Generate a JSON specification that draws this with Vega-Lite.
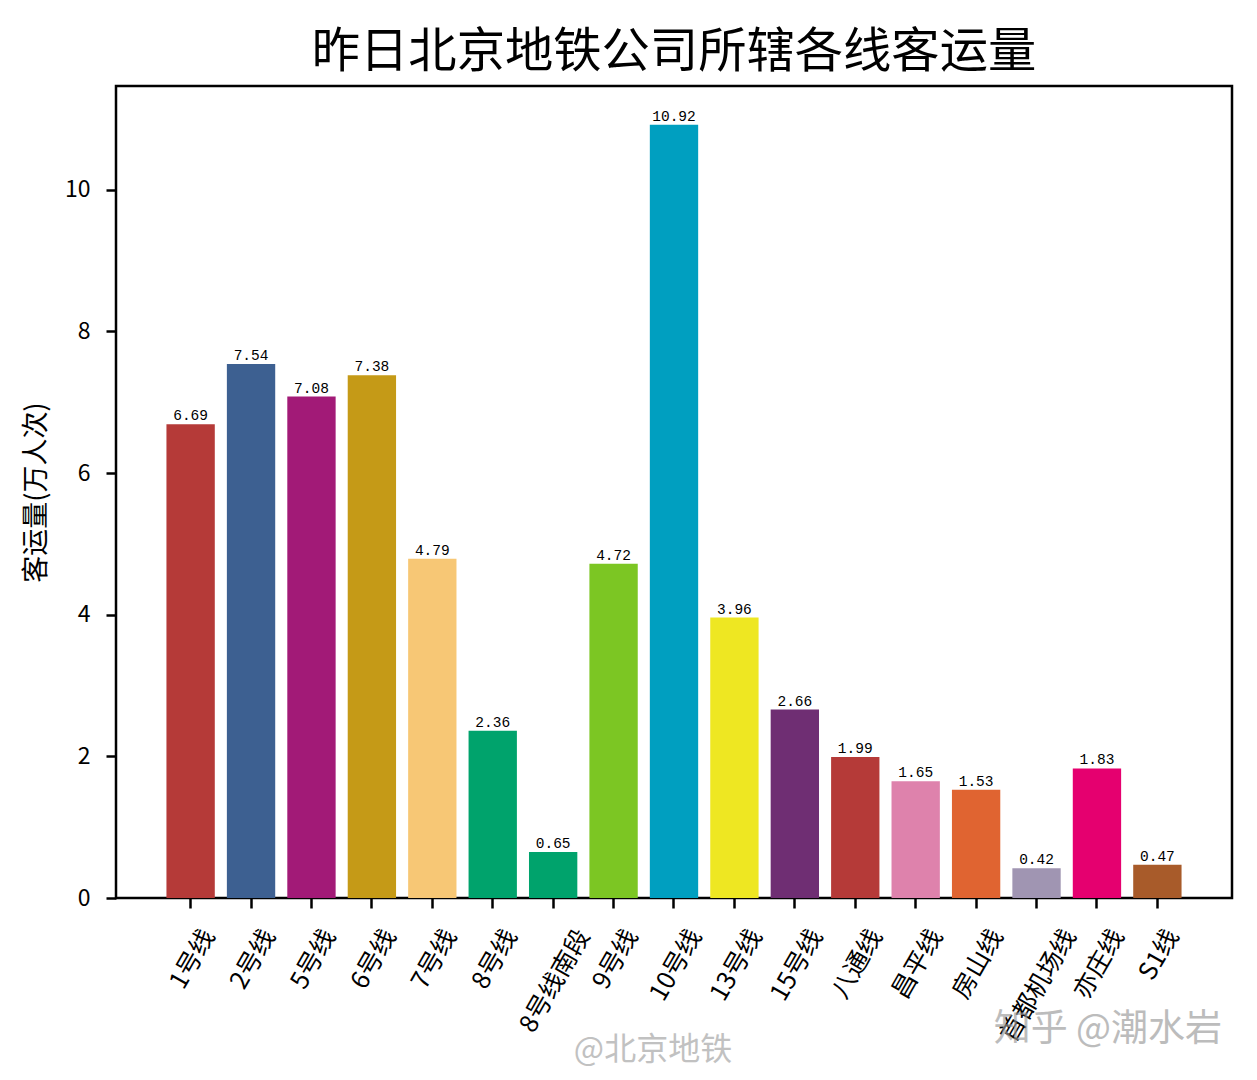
{
"$schema":"https://vega.github.io/schema/vega-lite/v6.json",
"width":1116,"height":812,
"autosize":{"type":"none"},
"padding":{"left":116,"top":86,"right":25,"bottom":182},
"background":"white",
"title":{"text":"昨日北京地铁公司所辖各线客运量","font":"Noto Sans CJK SC","fontSize":48.3,"fontWeight":400,"color":"#000000","anchor":"middle","offset":9},
"config":{"view":{"stroke":"#000000","strokeWidth":2.5}},
"datasets":{
"lines":[
{"line":"1号线","value":6.69},
{"line":"2号线","value":7.54},
{"line":"5号线","value":7.08},
{"line":"6号线","value":7.38},
{"line":"7号线","value":4.79},
{"line":"8号线","value":2.36},
{"line":"8号线南段","value":0.65},
{"line":"9号线","value":4.72},
{"line":"10号线","value":10.92},
{"line":"13号线","value":3.96},
{"line":"15号线","value":2.66},
{"line":"八通线","value":1.99},
{"line":"昌平线","value":1.65},
{"line":"房山线","value":1.53},
{"line":"首都机场线","value":0.42},
{"line":"亦庄线","value":1.83},
{"line":"S1线","value":0.47}
],
"marks1":[{"line":"亦庄线","value":-1.87,"label":"知乎 @潮水岩"}],
"marks2":[{"line":"10号线","value":-2.15,"label":"@北京地铁"}]
},
"layer":[
{"data":{"name":"lines"},
 "mark":{"type":"bar"},
 "encoding":{
  "x":{"field":"line","type":"nominal",
   "sort":null,
   "scale":{"domain":["1号线","2号线","5号线","6号线","7号线","8号线","8号线南段","9号线","10号线","13号线","15号线","八通线","昌平线","房山线","首都机场线","亦庄线","S1线"],"paddingInner":0.2,"paddingOuter":0.835},
   "axis":{"title":null,"labelAngle":-60,"labelAlign":"right","labelBaseline":"middle","labelFont":"Noto Sans CJK SC","labelFontSize":25,"labelColor":"#000000","labelPadding":23,"labelLimit":300,"labelOverlap":false,"labelBound":false,"labelFlush":false,
    "labelOffset":{"expr":"(length(replace(datum.label,/[0-9A-Z]/g,''))*25+length(replace(datum.label,/[^0-9A-Z]/g,''))*13.9)/4+2"},
    "domain":false,"ticks":true,"tickColor":"#000000","tickWidth":2.5,"tickSize":10,"grid":false}},
  "y":{"field":"value","type":"quantitative",
   "scale":{"domain":[0,11.466],"nice":false,"zero":true},
   "axis":{"title":"客运量(万人次)","titleFont":"Noto Sans CJK SC","titleFontSize":27,"titleFontWeight":"normal","titleColor":"#000000","titlePadding":14,"values":[0,2,4,6,8,10],"format":"d","labelFont":"Noto Sans CJK SC","labelFontSize":23,"labelColor":"#000000","labelPadding":16,"domain":false,"ticks":true,"tickColor":"#000000","tickWidth":2.5,"tickSize":10,"grid":false}},
  "color":{"field":"line","type":"nominal","legend":null,
   "scale":{"domain":["1号线","2号线","5号线","6号线","7号线","8号线","8号线南段","9号线","10号线","13号线","15号线","八通线","昌平线","房山线","首都机场线","亦庄线","S1线"],
   "range":["#B53A38","#3D6091","#A21A77","#C59A17","#F7C775","#00A36C","#00A36C","#7CC623","#009FC0","#EEE722","#6F2E73","#B53A38","#DE82AC","#E06431","#A095B2","#E5006F","#A85B2A"]}}
 }},
{"data":{"name":"lines"},
 "mark":{"type":"text","font":"Liberation Mono","fontSize":14.5,"color":"#000000","baseline":"bottom","align":"center","dy":-1},
 "encoding":{
  "x":{"field":"line","type":"nominal","sort":null},
  "y":{"field":"value","type":"quantitative"},
  "text":{"field":"value","type":"quantitative","format":".2f"}
 }},
{"data":{"name":"marks1"},
 "mark":{"type":"text","font":"Noto Sans CJK SC","fontSize":37,"color":"#999999","opacity":0.65,"align":"center","baseline":"middle","dx":11},
 "encoding":{
  "x":{"field":"line","type":"nominal","sort":null},
  "y":{"field":"value","type":"quantitative"},
  "text":{"field":"label"}
 }},
{"data":{"name":"marks2"},
 "mark":{"type":"text","font":"Noto Sans CJK SC","fontSize":32,"color":"#999999","opacity":0.6,"align":"center","baseline":"middle","dx":-21},
 "encoding":{
  "x":{"field":"line","type":"nominal","sort":null},
  "y":{"field":"value","type":"quantitative"},
  "text":{"field":"label"}
 }}
]
}
